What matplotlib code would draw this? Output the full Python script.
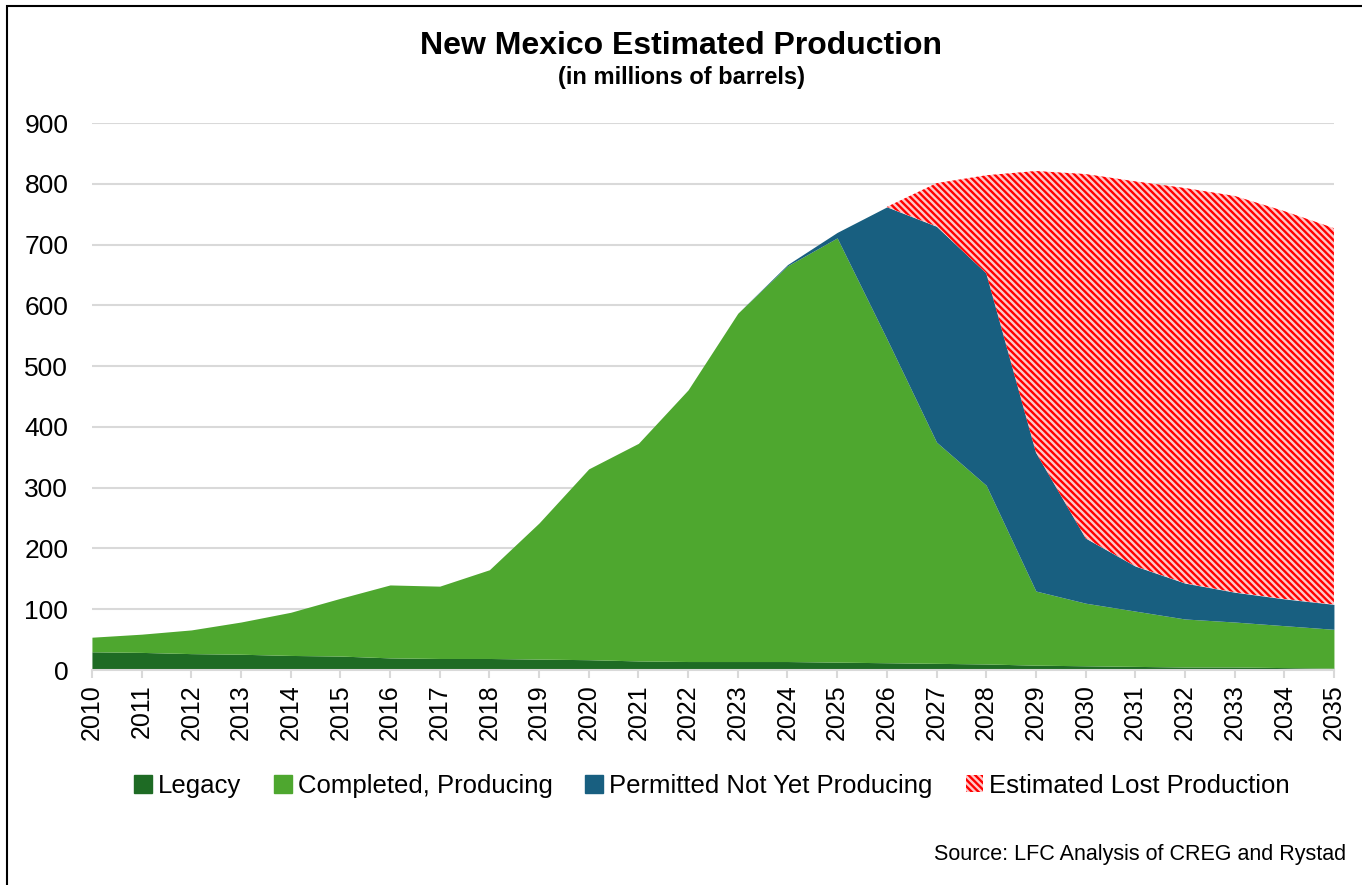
import numpy as np
import matplotlib.pyplot as plt
from matplotlib.patches import Rectangle
from matplotlib.lines import Line2D

plt.rcParams['font.family'] = ['Liberation Sans', 'DejaVu Sans']
plt.rcParams['hatch.linewidth'] = 1.7

years = list(range(2010, 2036))
legacy = [30, 29, 27, 26, 24, 23, 20, 19, 19, 18, 17, 15, 14, 14, 14, 13,
          12, 11, 10, 8, 7, 6, 5, 5, 4, 3]
completed = [24, 30, 39, 53, 71, 95, 120, 119, 146, 224, 314, 358, 447, 573, 651, 698,
             533, 364, 294, 122, 103, 91, 79, 74, 69, 64]
permitted = [0, 0, 0, 0, 0, 0, 0, 0, 0, 0, 0, 0, 0, 0, 2, 9,
             217, 355, 349, 228, 107, 74, 59, 49, 44, 41]
lost = [0, 0, 0, 0, 0, 0, 0, 0, 0, 0, 0, 0, 0, 0, 0, 0,
        0, 71, 161, 463, 599, 633, 650, 652, 638, 619]

labels = ['Legacy', 'Completed, Producing', 'Permitted Not Yet Producing',
          'Estimated Lost Production']
colors = ['#1E6B24', '#4EA72F', '#185F80', '#FF0000']
hatch = '\\' * 5

fig = plt.figure(figsize=(13.62, 8.85), dpi=100)
ax = fig.add_axes([0.0675, 0.2429, 0.9119, 0.6181])

x = np.array(years)
b0 = np.zeros(len(years))
b1 = b0 + legacy
b2 = b1 + completed
b3 = b2 + permitted
b4 = b3 + lost
ax.fill_between(x, b0, b1, color=colors[0], lw=0)
ax.fill_between(x, b1, b2, color=colors[1], lw=0)
ax.fill_between(x, b2, b3, color=colors[2], lw=0)
ax.fill_between(x, b3, b4, facecolor='#FFC8C8', edgecolor=colors[3],
                hatch=hatch, lw=0)

ax.set_xlim(2010, 2035)
ax.set_ylim(0, 900)
ax.set_yticks(range(0, 901, 100))
ax.set_xticks(years)
ax.set_xticklabels([str(y) for y in years], rotation=90, fontsize=18)
ax.tick_params(axis='y', length=0, labelsize=19, pad=17)
ax.tick_params(axis='x', length=6, color='#D9D9D9', width=1.5, pad=4)
ax.grid(axis='y', color='#D9D9D9', lw=1.5)
ax.set_axisbelow(True)
for s in ['top', 'right', 'left']:
    ax.spines[s].set_visible(False)
ax.spines['bottom'].set_color('#D9D9D9')
ax.spines['bottom'].set_linewidth(1.5)

handles = [Line2D([], [], ls='', marker='s', ms=13, color=c) for c in colors[:3]]
handles.append(Rectangle((0, 0), 1, 1, facecolor='#FFC8C8', edgecolor=colors[3],
                         hatch=hatch, lw=0))
fig.legend(handles, labels, loc='center', bbox_to_anchor=(0.523, 0.112), ncol=4,
           frameon=False, fontsize=18.5, handlelength=0.65, handletextpad=0.25,
           columnspacing=1.3, handleheight=0.65)

fig.text(0.5, 0.948, 'New Mexico Estimated Production', ha='center', va='center',
         fontsize=23, fontweight='bold')
fig.text(0.5, 0.912, '(in millions of barrels)', ha='center', va='center',
         fontsize=17, fontweight='bold')
fig.text(0.988, 0.034, 'Source: LFC Analysis of CREG and Rystad', ha='right',
         va='center', fontsize=15.5)

fig.add_artist(Rectangle((0.0055, -0.05), 1.2, 1.0435, transform=fig.transFigure,
                         fill=False, edgecolor='black', lw=1.5))

fig.savefig('out.png', dpi=100)
